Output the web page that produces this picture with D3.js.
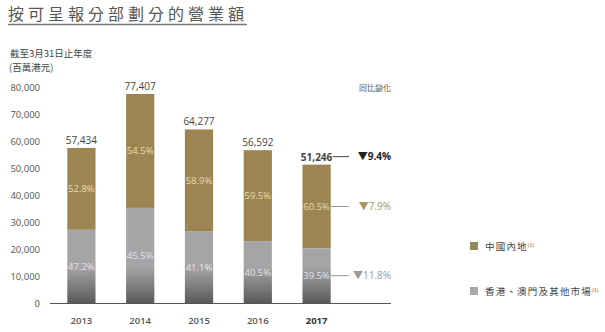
<!DOCTYPE html>
<html>
<head>
<meta charset="utf-8">
<script src="https://cdn.jsdelivr.net/npm/d3@7"></script>
<style>
body { margin: 0; background: #fff; }
text { font-family: "Open Sans", "Noto Sans CJK TC", sans-serif; }
.cjk { font-family: "Noto Sans CJK TC", sans-serif; }
</style>
</head>
<body>
<div id="chart"></div>
<script>
var years = ["2013", "2014", "2015", "2016", "2017"];
var totals = [57434, 77407, 64277, 56592, 51246];
var mainlandPct = [52.8, 54.5, 58.9, 59.5, 60.5];
var hkPct = [47.2, 45.5, 41.1, 40.5, 39.5];
var yTicks = [0, 10000, 20000, 30000, 40000, 50000, 60000, 70000, 80000];
var yoyTotal = "9.4%", yoyMainland = "7.9%", yoyHk = "11.8%";

var W = 605, H = 332;
var gold = "#9c8553", grey = "#a5a5a8";

var svg = d3.select("#chart").append("svg")
  .attr("width", W).attr("height", H);

// title
svg.append("text").attr("class", "cjk")
  .attr("x", 8).attr("y", 20)
  .style("font-size", "16px").style("letter-spacing", "4px")
  .attr("fill", "#555")
  .text("按可呈報分部劃分的營業額");
svg.append("line")
  .attr("x1", 8).attr("x2", 247).attr("y1", 24.5).attr("y2", 24.5)
  .attr("stroke", "#777").attr("stroke-width", 1.5);

svg.append("text").attr("class", "cjk")
  .attr("x", 10).attr("y", 57).style("font-size", "9.5px").attr("fill", "#444")
  .text("截至3月31日止年度");
svg.append("text").attr("class", "cjk")
  .attr("x", 9).attr("y", 71).style("font-size", "9.5px").attr("fill", "#444")
  .text("(百萬港元)");

var x = d3.scaleBand().domain(years).range([52, 346])
  .paddingInner(0.52).paddingOuter(0.26);
var y = d3.scaleLinear().domain([0, 80000]).range([303, 87]);

// y axis labels
var yAxis = svg.append("g").attr("transform", "translate(40,0)")
  .call(d3.axisLeft(y).tickValues(yTicks).tickSize(0).tickPadding(0)
    .tickFormat(function(d) { return d === 0 ? "0" : d3.format(",")(d); }));
yAxis.select(".domain").remove();
yAxis.selectAll("text").style("font-size", "9.5px").attr("fill", "#555")
  .style("font-family", "'Open Sans', sans-serif");

// gradient for the grey segment
var grad = svg.append("defs").append("linearGradient")
  .attr("id", "greyGrad").attr("gradientUnits", "userSpaceOnUse")
  .attr("x1", 0).attr("x2", 0).attr("y1", y(0) - 36).attr("y2", y(0));
grad.append("stop").attr("offset", "0%").attr("stop-color", grey);
grad.append("stop").attr("offset", "100%").attr("stop-color", "#5a5a5c");

var rows = years.map(function(yr, i) {
  var hk = totals[i] * hkPct[i] / 100;
  return { year: yr, total: totals[i], hk: hk, mPct: mainlandPct[i], hPct: hkPct[i] };
});

var bars = svg.selectAll(".bar").data(rows).enter().append("g");

bars.append("rect")
  .attr("x", function(d) { return x(d.year); })
  .attr("width", x.bandwidth())
  .attr("y", function(d) { return y(d.total); })
  .attr("height", function(d) { return y(d.hk) - y(d.total); })
  .attr("fill", gold);

bars.append("rect")
  .attr("x", function(d) { return x(d.year); })
  .attr("width", x.bandwidth())
  .attr("y", function(d) { return y(d.hk); })
  .attr("height", function(d) { return y(0) - y(d.hk); })
  .attr("fill", "url(#greyGrad)");

bars.append("text")
  .attr("x", function(d) { return x(d.year) + x.bandwidth() / 2; })
  .attr("y", function(d) { return y(d.total) - 4; })
  .attr("text-anchor", "middle").style("font-size", "10px").attr("fill", "#444")
  .style("font-weight", function(d) { return d.year === "2017" ? "bold" : "normal"; })
  .text(function(d) { return d3.format(",")(d.total); });

bars.append("text")
  .attr("x", function(d) { return x(d.year) + x.bandwidth() / 2; })
  .attr("y", function(d) { return (y(d.total) + y(d.hk)) / 2 + 3.5; })
  .attr("text-anchor", "middle").style("font-size", "9.5px").attr("fill", "#eadcaa")
  .text(function(d) { return d.mPct.toFixed(1) + "%"; });

bars.append("text")
  .attr("x", function(d) { return x(d.year) + x.bandwidth() / 2; })
  .attr("y", function(d) { return (y(d.hk) + y(0)) / 2 + 3.5; })
  .attr("text-anchor", "middle").style("font-size", "9.5px").attr("fill", "#e4e4e6")
  .text(function(d) { return d.hPct.toFixed(1) + "%"; });

// x axis
svg.append("line")
  .attr("x1", 50).attr("x2", 391).attr("y1", y(0) + 0.5).attr("y2", y(0) + 0.5)
  .attr("stroke", "#555").attr("stroke-width", 1);
svg.selectAll(".yr").data(years).enter().append("text")
  .attr("x", function(d) { return x(d) + x.bandwidth() / 2; })
  .attr("y", 324).attr("text-anchor", "middle")
  .style("font-size", "9.5px")
  .style("font-weight", function(d) { return d === "2017" ? "bold" : "600"; })
  .attr("fill", function(d) { return d === "2017" ? "#333" : "#555"; })
  .text(function(d) { return d; });

// year-on-year change annotations for the last year
var last = rows[rows.length - 1];
var bx = x(last.year) + x.bandwidth();
var ann = [
  { yv: y(last.total) - 8, text: "▼" + yoyTotal, color: "#222", bold: true, x1: bx + 2 },
  { yv: (y(last.total) + y(last.hk)) / 2, text: "▼" + yoyMainland, color: "#a89560", bold: false, x1: bx },
  { yv: (y(last.hk) + y(0)) / 2, text: "▼" + yoyHk, color: "#9a9a9c", bold: false, x1: bx }
];
ann.forEach(function(a) {
  svg.append("line").attr("x1", a.x1).attr("x2", 349)
    .attr("y1", a.yv).attr("y2", a.yv)
    .attr("stroke", a.bold ? "#444" : "#999").attr("stroke-width", 1);
  svg.append("text").attr("x", 391).attr("y", a.yv + 3.5).attr("text-anchor", "end")
    .style("font-size", "10px").style("font-weight", a.bold ? "bold" : "normal")
    .attr("fill", a.color).text(a.text);
});
svg.append("text").attr("class", "cjk")
  .attr("x", 391).attr("y", 91).attr("text-anchor", "end")
  .style("font-size", "8px").attr("fill", "#555").text("同比變化");

// legend
var legend = [
  { label: "中國內地", color: "#928a5c", yv: 246 },
  { label: "香港、澳門及其他市場", color: "#aaaaac", yv: 291 }
];
legend.forEach(function(l) {
  svg.append("rect").attr("x", 470).attr("y", l.yv - 4).attr("width", 8).attr("height", 8)
    .attr("fill", l.color);
  var t = svg.append("text").attr("class", "cjk").attr("x", 485).attr("y", l.yv + 3.5)
    .style("font-size", "9.5px").style("letter-spacing", "1.2px").attr("fill", "#444");
  t.append("tspan").text(l.label);
  t.append("tspan").attr("dy", -3).style("font-size", "5px").style("letter-spacing", "0px")
    .text("(1)");
});
</script>
</body>
</html>
